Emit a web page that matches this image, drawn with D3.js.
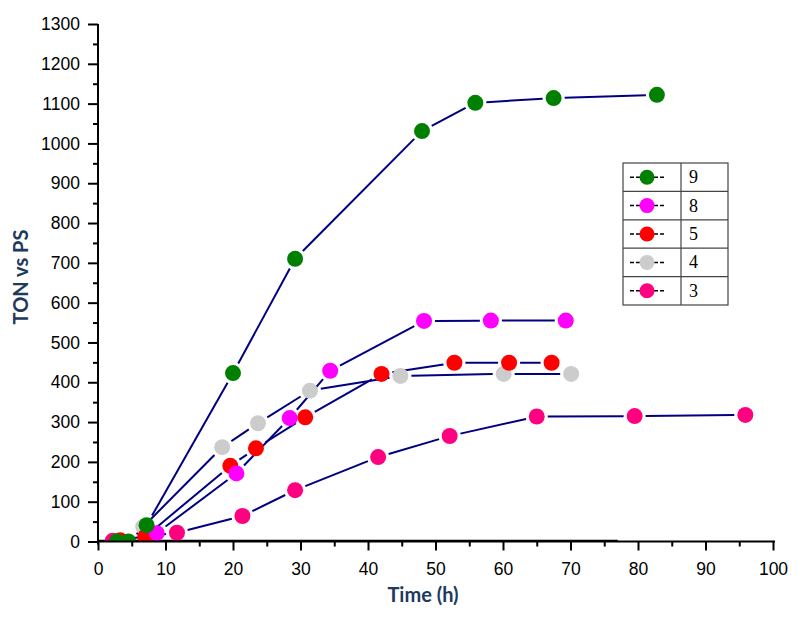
<!DOCTYPE html>
<html>
<head>
<meta charset="utf-8">
<script src="https://cdn.jsdelivr.net/npm/d3@7"></script>
<style>
  html, body { margin: 0; padding: 0; background: #fff; }
  svg { display: block; }
</style>
</head>
<body>
<svg id="chart" width="800" height="617"></svg>
<script>
// ---- data ----
const seriesNames = ["9", "8", "5", "4", "3"];
const seriesColors = ["#008000", "#ff00ff", "#ff0000", "#cccccc", "#ff0080"];

const time9 = [2.8, 4.5, 7.2, 20.0, 29.2, 48.0, 55.9, 67.5, 82.8];
const ton9  = [0, 0, 41, 423, 710, 1031, 1102, 1114, 1122];

const time8 = [8.7, 20.5, 28.4, 34.4, 48.3, 58.2, 69.3];
const ton8  = [21, 171, 310, 429, 554, 555, 555];

const time5 = [3.3, 7.0, 19.6, 23.4, 30.7, 42.0, 52.8, 60.9, 67.2];
const ton5  = [3, 12, 190, 234, 312, 421, 449, 449, 449];

const time4 = [6.7, 18.4, 23.7, 31.4, 44.8, 60.1, 70.1];
const ton4  = [37, 237, 297, 379, 416, 421, 421];

const time3 = [2.2, 11.7, 21.4, 29.2, 41.5, 52.1, 65.0, 79.5, 95.9];
const ton3  = [2, 22, 64, 129, 212, 265, 314, 315, 318];

const baseLineTime = [0, 77];

const xTicks = d3.range(0, 101, 10);
const xMinorTicks = d3.range(5, 100, 10);
const yTicks = d3.range(0, 1301, 100);
const yMinorTicks = d3.range(50, 1300, 100);

// ---- build ----
const svg = d3.select("#chart");
const x = d3.scaleLinear().domain([0, 100]).range([98, 773]);
const y = d3.scaleLinear().domain([0, 1300]).range([541.5, 24]);

const series = [
  { name: "3", color: seriesColors[4], t: time3, v: ton3 },
  { name: "4", color: seriesColors[3], t: time4, v: ton4 },
  { name: "5", color: seriesColors[2], t: time5, v: ton5 },
  { name: "8", color: seriesColors[1], t: time8, v: ton8 },
  { name: "9", color: seriesColors[0], t: time9, v: ton9 }
].map(s => ({ ...s, pts: s.t.map((tt, i) => ({ t: tt, v: s.v[i] })) }));

svg.append("defs").append("clipPath").attr("id", "plotclip")
  .append("rect").attr("x", x(0)).attr("y", 0)
  .attr("width", x(100) - x(0) + 10).attr("height", y(0));

const R = 8, GAP = 3;
const lineColor = "#000080";

// lines with gaps around markers
const gLines = svg.append("g").attr("clip-path", "url(#plotclip)");
series.forEach(s => {
  for (let i = 0; i < s.pts.length - 1; i++) {
    const x1 = x(s.pts[i].t), y1 = y(s.pts[i].v);
    const x2 = x(s.pts[i + 1].t), y2 = y(s.pts[i + 1].v);
    const dx = x2 - x1, dy = y2 - y1, L = Math.hypot(dx, dy);
    const cut = R + GAP;
    if (L <= 2 * cut) continue;
    const ux = dx / L, uy = dy / L;
    gLines.append("line")
      .attr("x1", x1 + ux * cut).attr("y1", y1 + uy * cut)
      .attr("x2", x2 - ux * cut).attr("y2", y2 - uy * cut)
      .attr("stroke", lineColor).attr("stroke-width", 2);
  }
});

// baseline line drawn just above the x axis
svg.append("line")
  .attr("x1", x(baseLineTime[0])).attr("x2", x(baseLineTime[1]))
  .attr("y1", y(0) - 1).attr("y2", y(0) - 1)
  .attr("stroke", "#000").attr("stroke-width", 1.5);

// markers
const gPts = svg.append("g").attr("clip-path", "url(#plotclip)");
series.forEach(s => {
  gPts.selectAll(null).data(s.pts).enter().append("circle")
    .attr("cx", d => x(d.t)).attr("cy", d => y(d.v)).attr("r", R)
    .attr("fill", s.color);
});

// axes
const axisFont = "Arial, 'Liberation Sans', sans-serif";
const fmt = d3.format("d");
const yAxis = svg.append("g").attr("transform", `translate(${x(0)},0)`)
  .call(d3.axisLeft(y).tickValues(yTicks).tickFormat(fmt).tickSize(10).tickSizeOuter(0).tickPadding(8));
svg.append("g").attr("transform", `translate(${x(0)},0)`)
  .call(d3.axisLeft(y).tickValues(yMinorTicks).tickSize(5).tickFormat(""))
  .select(".domain").remove();

const xAxis = svg.append("g").attr("transform", `translate(0,${y(0)})`)
  .call(d3.axisBottom(x).tickValues(xTicks).tickFormat(fmt).tickSize(9).tickSizeOuter(0).tickPadding(12));
svg.append("g").attr("transform", `translate(0,${y(0)})`)
  .call(d3.axisBottom(x).tickValues(xMinorTicks).tickSize(5).tickFormat(""))
  .select(".domain").remove();

svg.selectAll(".tick line").attr("stroke", "#000").attr("stroke-width", 2);
svg.selectAll(".domain").attr("stroke", "#000").attr("stroke-width", 2);
yAxis.select(".domain").attr("d", `M0,${y(0) + 3}V${y(1300)}`);
xAxis.select(".domain").attr("d", `M${x(0) - 1},0H${x(100) + 2}`);
svg.selectAll(".tick text").attr("font-family", axisFont).attr("font-size", 17.5).attr("fill", "#000");

// axis titles
const titleColor = "#213a5c";
svg.append("text")
  .attr("x", 423).attr("y", 602).attr("text-anchor", "middle")
  .attr("font-family", "Lato, 'Open Sans', sans-serif").attr("font-weight", "bold")
  .attr("font-size", 20).attr("fill", titleColor).text("Time (h)");
svg.append("text")
  .attr("transform", "translate(28,277) rotate(-90)").attr("text-anchor", "middle")
  .attr("font-family", "Lato, 'Open Sans', sans-serif").attr("font-weight", "bold")
  .attr("font-size", 20).attr("fill", titleColor).text("TON vs PS");

// legend (table-like)
const lg = { x: 623, y: 163, w: 105, rowH: 28.4, split: 58 };
const legendOrder = seriesNames.map((n, i) => ({ name: n, color: seriesColors[i] }));
const gL = svg.append("g");
gL.append("rect").attr("x", lg.x).attr("y", lg.y)
  .attr("width", lg.w).attr("height", lg.rowH * legendOrder.length)
  .attr("fill", "#fff").attr("stroke", "#444").attr("stroke-width", 1.2);
gL.append("line").attr("x1", lg.x + lg.split).attr("x2", lg.x + lg.split)
  .attr("y1", lg.y).attr("y2", lg.y + lg.rowH * legendOrder.length)
  .attr("stroke", "#444").attr("stroke-width", 1.2);
legendOrder.forEach((d, i) => {
  const cy = lg.y + lg.rowH * (i + 0.5);
  if (i > 0) gL.append("line").attr("x1", lg.x).attr("x2", lg.x + lg.w)
    .attr("y1", lg.y + lg.rowH * i).attr("y2", lg.y + lg.rowH * i)
    .attr("stroke", "#444").attr("stroke-width", 1.2);
  gL.append("line").attr("x1", lg.x + 7).attr("x2", lg.x + 41)
    .attr("y1", cy).attr("y2", cy).attr("stroke", "#000")
    .attr("stroke-width", 1.5).attr("stroke-dasharray", "4,2");
  gL.append("circle").attr("cx", lg.x + 24).attr("cy", cy).attr("r", 7.5).attr("fill", d.color);
  gL.append("text").attr("x", lg.x + 66).attr("y", cy + 6)
    .attr("font-family", "'Liberation Serif', 'Times New Roman', serif")
    .attr("font-size", 18).attr("fill", "#000").text(d.name);
});
</script>
</body>
</html>
